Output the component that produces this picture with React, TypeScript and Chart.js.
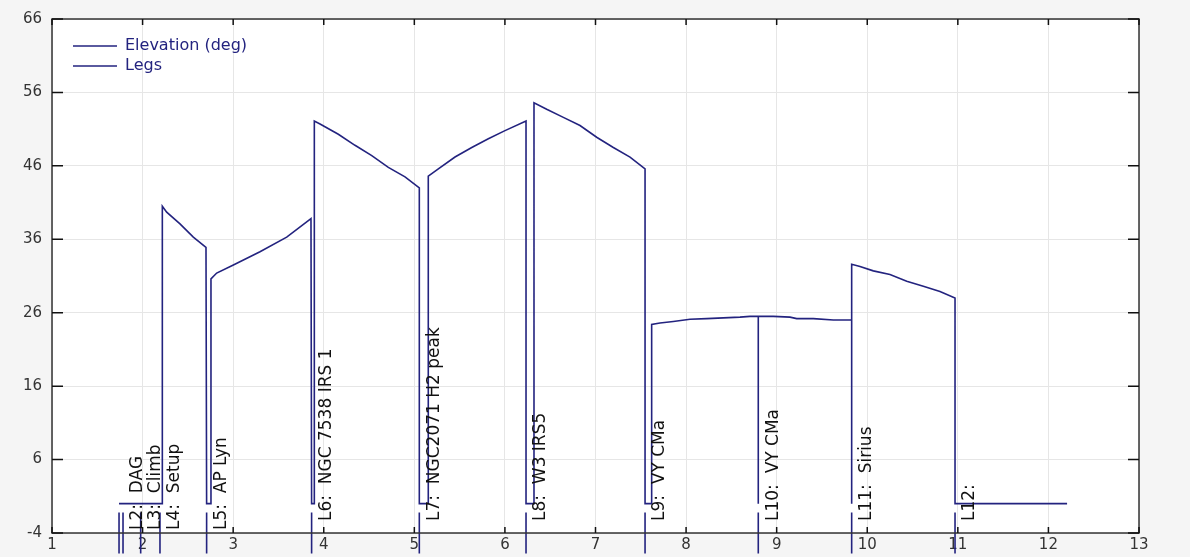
import React, { useEffect, useRef } from "react";
import { Chart, registerables } from "chart.js";

Chart.register(...registerables);

// ---- data ----
const xTicks = [1, 2, 3, 4, 5, 6, 7, 8, 9, 10, 11, 12, 13];
const yTicks = [-4, 6, 16, 26, 36, 46, 56, 66];

const elevX = [
  1.740, 2.218, 2.218, 2.266, 2.413, 2.560, 2.700, 2.707,
  2.755, 2.755, 2.818, 3.002, 3.296, 3.591, 3.859, 3.866,
  3.896, 3.896, 3.959, 4.161, 4.345, 4.530, 4.713, 4.897, 5.055, 5.055,
  5.154, 5.154, 5.265, 5.449, 5.634, 5.817, 6.001, 6.233, 6.233,
  6.321, 6.321, 6.461, 6.645, 6.829, 7.013, 7.197, 7.381, 7.547, 7.547,
  7.620, 7.620, 7.712, 7.859, 8.043, 8.228, 8.411, 8.595, 8.705, 8.797, 8.797, 8.797,
  8.963, 9.147, 9.221, 9.405, 9.626, 9.828, 9.828, 9.828,
  9.920, 10.067, 10.251, 10.436, 10.619, 10.803, 10.969, 10.969, 12.206,
];
const elevY = [
  0, 0, 40.5, 39.7, 38.1, 36.3, 34.9, 0,
  0, 30.6, 31.4, 32.5, 34.3, 36.3, 38.8, 0,
  0, 52.1, 51.7, 50.3, 48.8, 47.4, 45.8, 44.5, 43.0, 0,
  0, 44.6, 45.6, 47.2, 48.5, 49.7, 50.8, 52.1, 0,
  0, 54.6, 53.7, 52.6, 51.5, 49.9, 48.5, 47.2, 45.6, 0,
  0, 24.4, 24.6, 24.8, 25.1, 25.2, 25.3, 25.4, 25.5, 25.5, 0, 25.5,
  25.5, 25.4, 25.2, 25.2, 25.0, 25.0, 0, 32.6,
  32.3, 31.7, 31.2, 30.3, 29.6, 28.9, 28.0, 0, 0,
];

const legStarts = [1.740, 1.784, 1.979, 2.192, 2.707, 3.866, 5.055, 6.233, 7.547, 8.797, 9.828, 10.969];
const legLabels = [
  "",
  "L2:  DAG",
  "L3:  Climb",
  "L4:  Setup",
  "L5:  AP Lyn",
  "L6:  NGC 7538 IRS 1",
  "L7:  NGC2071 H2 peak",
  "L8:  W3 IRS5",
  "L9:  VY CMa",
  "L10:  VY CMa",
  "L11:  Sirius",
  "L12:",
];
const legTop = -1.2;
const legBottom = -6.8;

const seriesNames = ["Elevation (deg)", "Legs"];

// ---- styles ----
const NAVY = "#23237f";
const FONT = "'DejaVu Sans', sans-serif";
// pixel gap between the x axis and the start of each rotated leg label
const labelGaps = [12, 3, 3, 3, 3, 12, 12, 12, 12, 12, 12, 12];

const decorPlugin = {
  id: "decor",
  beforeDraw(chart: any) {
    const { ctx, chartArea: a } = chart;
    ctx.save();
    ctx.fillStyle = "#f5f5f5";
    ctx.fillRect(0, 0, chart.width, chart.height);
    ctx.fillStyle = "#ffffff";
    ctx.fillRect(a.left, a.top, a.right - a.left, a.bottom - a.top);
    ctx.restore();
  },
  afterDraw(chart: any) {
    const { ctx, chartArea: a, scales } = chart;
    const xs = scales.x;
    const ys = scales.y;
    ctx.save();
    // leg labels
    ctx.fillStyle = "#111111";
    ctx.font = `17px ${FONT}`;
    ctx.textAlign = "left";
    ctx.textBaseline = "middle";
    legStarts.forEach((lx, i) => {
      const t = legLabels[i];
      if (!t) return;
      ctx.save();
      ctx.translate(xs.getPixelForValue(lx) + 15, a.bottom - labelGaps[i]);
      ctx.rotate(-Math.PI / 2);
      ctx.fillText(t, 0, 0);
      ctx.restore();
    });
    // box
    ctx.strokeStyle = "#333333";
    ctx.lineWidth = 1.5;
    ctx.strokeRect(a.left, a.top, a.right - a.left, a.bottom - a.top);
    // inward ticks
    ctx.strokeStyle = "#111111";
    ctx.lineWidth = 1.5;
    ctx.beginPath();
    xTicks.forEach((v) => {
      const px = xs.getPixelForValue(v);
      ctx.moveTo(px, a.bottom);
      ctx.lineTo(px, a.bottom - 6);
      ctx.moveTo(px, a.top);
      ctx.lineTo(px, a.top + 6);
    });
    yTicks.forEach((v) => {
      const py = ys.getPixelForValue(v);
      ctx.moveTo(a.left, py);
      ctx.lineTo(a.left + 11, py);
      ctx.moveTo(a.right, py);
      ctx.lineTo(a.right - 11, py);
    });
    ctx.stroke();
    // legend
    ctx.font = `16px ${FONT}`;
    ctx.textBaseline = "middle";
    ctx.textAlign = "left";
    chart.data.datasets.forEach((ds: any, i: number) => {
      const y = a.top + 27 + i * 20;
      ctx.strokeStyle = ds.borderColor;
      ctx.lineWidth = 1.5;
      ctx.beginPath();
      ctx.moveTo(a.left + 21, y);
      ctx.lineTo(a.left + 65, y);
      ctx.stroke();
      ctx.fillStyle = ds.borderColor;
      ctx.fillText(ds.label, a.left + 73, y);
    });
    ctx.restore();
  },
};

export default function App() {
  const ref = useRef<HTMLCanvasElement | null>(null);

  useEffect(() => {
    document.body.style.margin = "0";
    const canvas = ref.current;
    if (!canvas) return;

    const elevData = elevX.map((x, i) => ({ x, y: elevY[i] }));
    const legData: { x: number; y: number | null }[] = [];
    legStarts.forEach((x) => {
      legData.push({ x, y: legTop });
      legData.push({ x, y: legBottom });
      legData.push({ x, y: null });
    });

    const tickFont = { family: FONT, size: 15 };

    const chart = new Chart(canvas, {
      type: "scatter",
      data: {
        datasets: [
          {
            label: seriesNames[0],
            data: elevData,
            showLine: true,
            borderColor: NAVY,
            backgroundColor: NAVY,
            borderWidth: 1.6,
            pointRadius: 0,
            tension: 0,
          },
          {
            label: seriesNames[1],
            data: legData as any,
            showLine: true,
            spanGaps: false,
            borderColor: NAVY,
            backgroundColor: NAVY,
            borderWidth: 1.6,
            pointRadius: 0,
            clip: false as any,
          },
        ],
      },
      options: {
        responsive: false,
        animation: false,
        layout: { padding: { top: 15, right: 51, left: 0, bottom: 0 } },
        plugins: { legend: { display: false }, tooltip: { enabled: false } },
        scales: {
          x: {
            type: "linear",
            min: 1,
            max: 13,
            afterBuildTicks: (s: any) => {
              s.ticks = xTicks.map((v) => ({ value: v }));
            },
            afterFit: (s: any) => {
              s.height = 24;
            },
            ticks: { font: tickFont, color: "#333333", padding: 3, maxRotation: 0, autoSkip: false },
            grid: { color: "#e6e6e6", drawTicks: false },
            border: { display: false },
          },
          y: {
            type: "linear",
            min: -4,
            max: 66,
            afterBuildTicks: (s: any) => {
              s.ticks = yTicks.map((v) => ({ value: v }));
            },
            afterFit: (s: any) => {
              s.width = 52;
            },
            ticks: { font: tickFont, color: "#333333", padding: 10, autoSkip: false },
            grid: { color: "#e6e6e6", drawTicks: false },
            border: { display: false },
          },
        },
      },
      plugins: [decorPlugin],
    });

    return () => chart.destroy();
  }, []);

  return (
    <div style={{ width: 1190, height: 557 }}>
      <canvas ref={ref} width={1190} height={557} style={{ display: "block" }} />
    </div>
  );
}
